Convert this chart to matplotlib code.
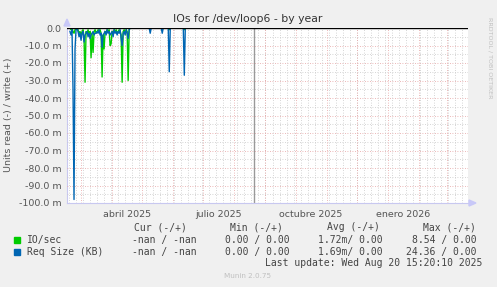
import numpy as np
import matplotlib
matplotlib.use("Agg")
import matplotlib.pyplot as plt
import matplotlib.dates as mdates
import datetime as dt

# ---- data (values in milli-units, read side plotted negative) ----
start_date = dt.datetime(2025, 2, 15)
end_date = dt.datetime(2026, 3, 22)
now_date = dt.datetime(2025, 8, 20, 15, 20)

day_offsets = list(range(3, 121))
req_size = [-2, -4, -1, -35, -98, -12, -1, 0, -2, -5, -3, -7, -3, -2, -8, -4, -3, -2, -5, -3,
            -6, -4, -3, -2, -4, -3, -3, -2, -3, -1, -4, -3, -11, -4, -3, -2, -4, -1, -3, -2,
            -4, -3, -2, -5, -1, -3, -2, -4, -2, -3, -1, -6, -10, -3, -2, -4, -1, -3, -6, -1,
            0, 0, 0, 0, 0, 0, 0, 0, 0, 0, 0, 0, 0, 0, 0, 0, 0, 0, 0, 0,
            -3, 0, 0, 0, 0, 0, 0, 0, 0, 0, 0, 0, -3, 0, 0, 0, 0, 0, 0, -25,
            0, 0, 0, 0, 0, 0, 0, 0, 0, 0, 0, 0, 0, 0, -27, 0, 0, 0]
io_sec = [0, -1, 0, -2, -3, -1, 0, 0, -1, -3, -2, -4, -2, -1, -5, -31, -2, -3, -1, -4,
          -2, -17, -3, -14, -2, -1, -3, -2, -1, -2, -1, -3, -28, -4, -12, -2, -3, -1, -2, -1,
          -10, -9, -2, -3, -1, -2, -1, -3, -2, -1, -2, -4, -31, -2, -1, -3, -1, -2, -30, -1,
          0, 0, 0, 0, 0, 0, 0, 0, 0, 0, 0, 0, 0, 0, 0, 0, 0, 0, 0, 0,
          0, 0, 0, 0, 0, 0, 0, 0, 0, 0, 0, 0, 0, 0, 0, 0, 0, 0, 0, -1,
          0, 0, 0, 0, 0, 0, 0, 0, 0, 0, 0, 0, 0, 0, -1, 0, 0, 0]

y_ticks = [0, -10, -20, -30, -40, -50, -60, -70, -80, -90, -100]
month_labels = ["abril 2025", "julio 2025", "octubre 2025", "enero 2026"]
month_label_dates = [dt.datetime(2025, 4, 16), dt.datetime(2025, 7, 16),
                     dt.datetime(2025, 10, 16), dt.datetime(2026, 1, 16)]

legend_names = ["IO/sec", "Req Size (KB)"]
legend_colors = ["#00CC00", "#0066B3"]
legend_cur = ["-nan / -nan", "-nan / -nan"]
legend_min = ["0.00 / 0.00", "0.00 / 0.00"]
legend_avg = ["1.72m/ 0.00", "1.69m/ 0.00"]
legend_max = ["8.54 / 0.00", "24.36 / 0.00"]

# ---- figure ----
W, H = 497, 287
fig = plt.figure(figsize=(W / 100, H / 100), dpi=100, facecolor="#F0F0F0")
x0, x1, yt, yb = 67, 468, 28, 203
ax = fig.add_axes([x0 / W, 1 - yb / H, (x1 - x0) / W, (yb - yt) / H])
ax.set_facecolor("white")

dates = [start_date + dt.timedelta(days=d) for d in day_offsets]
ax.set_xlim(start_date, end_date)
ax.set_ylim(-100, 0)

# grid
minor_col = "#C8C8C8"
major_col = "#E6A0A0"
for v in range(-95, 0, 10):
    ax.axhline(v, color=minor_col, lw=0.6, ls=(0, (1, 2)), zorder=1)
for v in y_ticks[1:]:
    ax.axhline(v, color=major_col, lw=0.6, ls=(0, (1, 2)), zorder=1)
d = dt.datetime(2025, 2, 17)
while d < end_date:
    ax.axvline(d, color=minor_col, lw=0.6, ls=(0, (1, 2)), zorder=1)
    d += dt.timedelta(days=7)
m = dt.datetime(2025, 3, 1)
while m < end_date:
    ax.axvline(m, color=major_col, lw=0.6, ls=(0, (1, 2)), zorder=1)
    m = dt.datetime(m.year + (m.month // 12), m.month % 12 + 1, 1)

ax.axvline(now_date, color="#999999", lw=1.0, zorder=2)

ax.plot(dates, io_sec, color=legend_colors[0], lw=1.0, zorder=3)
ax.plot(dates, req_size, color=legend_colors[1], lw=1.0, zorder=4)
ax.axhline(0, color="black", lw=1.0, zorder=5)

for s in ["top", "right"]:
    ax.spines[s].set_visible(False)
ax.spines["left"].set_color("#C8C8F0")
ax.spines["bottom"].set_color("#C8C8F0")
ax.spines["left"].set_zorder(0)

ax.set_yticks(y_ticks)
ax.set_yticklabels(["0.0"] + ["%.1f m" % v for v in y_ticks[1:]])
ax.tick_params(axis="y", length=0, pad=4, labelsize=6.8, colors="#555555")
ax.set_xticks(month_label_dates)
ax.set_xticklabels(month_labels)
ax.tick_params(axis="x", length=0, pad=5, labelsize=6.8, colors="#555555")

# arrows
fig.patches.append(matplotlib.patches.Polygon(
    [[64 / W, 1 - 26 / H], [70 / W, 1 - 26 / H], [67 / W, 1 - 19 / H]],
    closed=True, transform=fig.transFigure, color="#C8C8F8", zorder=10))
fig.patches.append(matplotlib.patches.Polygon(
    [[469 / W, 1 - 200 / H], [469 / W, 1 - 206 / H], [476 / W, 1 - 203 / H]],
    closed=True, transform=fig.transFigure, color="#C8C8F8", zorder=10))

fig.text(248 / W, 1 - 19 / H, "IOs for /dev/loop6 - by year", ha="center", va="center",
         fontsize=7.8, color="#333333")
fig.text(9 / W, 1 - 115 / H, "Units read (-) / write (+)", rotation=90, ha="center",
         va="center", fontsize=6.8, color="#555555")
fig.text(490 / W, 1 - 58 / H, "RRDTOOL / TOBI OETIKER", rotation=270, ha="center",
         va="center", fontsize=4.6, color="#C0C0C0")

mono = "DejaVu Sans Mono"
fs = 7.0
tc = "#444444"
hy = 227
for txt, xr in zip(["Cur (-/+)", "Min (-/+)", "Avg (-/+)", "Max (-/+)"], [187, 283, 380, 476]):
    fig.text(xr / W, 1 - hy / H, txt, ha="right", va="center", family=mono, fontsize=fs, color=tc)
for i, name in enumerate(legend_names):
    yy = 240 + i * 12
    fig.patches.append(matplotlib.patches.Rectangle(
        (14 / W, 1 - (yy + 3) / H), 6 / W, 6 / H, transform=fig.transFigure,
        color=legend_colors[i], zorder=10))
    fig.text(27 / W, 1 - yy / H, name, ha="left", va="center", family=mono, fontsize=fs, color=tc)
    for txt, xr in zip([legend_cur[i], legend_min[i], legend_avg[i], legend_max[i]],
                       [197, 290, 383, 477]):
        fig.text(xr / W, 1 - yy / H, txt, ha="right", va="center", family=mono,
                 fontsize=fs, color=tc)
fig.text(482 / W, 1 - 263 / H, "Last update: Wed Aug 20 15:20:10 2025", ha="right",
         va="center", family=mono, fontsize=fs, color=tc)
fig.text(248 / W, 1 - 276 / H, "Munin 2.0.75", ha="center", va="center",
         fontsize=5.2, color="#C0C0C0")

fig.savefig("out.png", dpi=100, facecolor=fig.get_facecolor())
